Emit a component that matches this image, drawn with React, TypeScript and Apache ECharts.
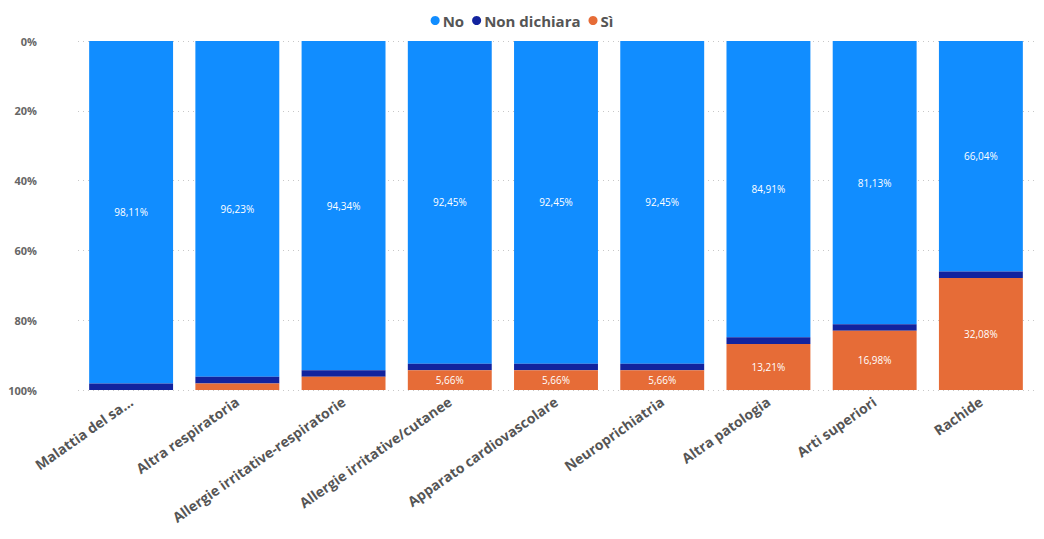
import React, { useEffect, useRef } from "react";
import * as echarts from "echarts";

const categories = [
  "Malattia del sa...",
  "Altra respiratoria",
  "Allergie irritative-respiratorie",
  "Allergie irritative/cutanee",
  "Apparato cardiovascolare",
  "Neuroprichiatria",
  "Altra patologia",
  "Arti superiori",
  "Rachide",
];
const noValues = [98.11, 96.23, 94.34, 92.45, 92.45, 92.45, 84.91, 81.13, 66.04];
const nonDichiaraValues = [1.89, 1.89, 1.89, 1.89, 1.89, 1.89, 1.89, 1.89, 1.89];
const siValues = [0, 1.89, 3.77, 5.66, 5.66, 5.66, 13.21, 16.98, 32.08];
const yTicks = [0, 20, 40, 60, 80, 100];

const FONT = "'Open Sans', 'Noto Sans', sans-serif";

const fmt = (v: number) => v.toFixed(2).replace(".", ",") + "%";

export default function App() {
  const ref = useRef<HTMLDivElement>(null);
  useEffect(() => {
    if (!ref.current) return;
    const chart = echarts.init(ref.current, undefined, { renderer: "svg" });
    const label = {
      show: true,
      position: "inside",
      color: "#ffffff",
      fontSize: 10,
      fontFamily: FONT,
      formatter: (p: any) => (p.value >= 5 ? fmt(p.value) : ""),
    };
    chart.setOption({
      animation: false,
      textStyle: { fontFamily: FONT },
      legend: {
        top: 0,
        left: "center",
        itemWidth: 9,
        itemHeight: 9,
        itemGap: 8,
        icon: "circle",
        textStyle: { fontSize: 15, fontWeight: "bold", color: "#555555", fontFamily: FONT, padding: [0, 0, 0, -2] },
        data: ["No", "Non dichiara", "Sì"],
      },
      grid: { left: 70, right: 2, top: 33, bottom: 141, containLabel: false, outerBoundsMode: "none" },
      xAxis: {
        type: "category",
        data: categories,
        axisLine: { show: false },
        axisTick: { show: false },
        axisLabel: {
          rotate: 35,
          interval: 0,
          margin: 10,
          fontSize: 14,
          fontWeight: "bold",
          color: "#555555",
          fontFamily: FONT,
        },
      },
      yAxis: {
        type: "value",
        inverse: true,
        min: 0,
        max: 100,
        interval: 20,
        axisLine: { show: false },
        axisTick: { show: false },
        splitLine: { show: true, lineStyle: { type: [1, 4], color: "#c8c8c8", width: 1 } },
        axisLabel: {
          margin: 41,
          fontSize: 11,
          fontWeight: "bold",
          color: "#666666",
          fontFamily: FONT,
          formatter: (v: number) => (yTicks.includes(v) ? v + "%" : ""),
        },
      },
      series: [
        {
          name: "No",
          type: "bar",
          stack: "total",
          data: noValues,
          barWidth: "79%",
          itemStyle: { color: "#118DFF" },
          label,
        },
        {
          name: "Non dichiara",
          type: "bar",
          stack: "total",
          data: nonDichiaraValues,
          itemStyle: { color: "#12239E" },
          label: { show: false },
        },
        {
          name: "Sì",
          type: "bar",
          stack: "total",
          data: siValues,
          itemStyle: { color: "#E66C37" },
          label,
        },
      ],
    });
    return () => chart.dispose();
  }, []);
  return <div ref={ref} style={{ width: 1028, height: 523 }} />;
}
